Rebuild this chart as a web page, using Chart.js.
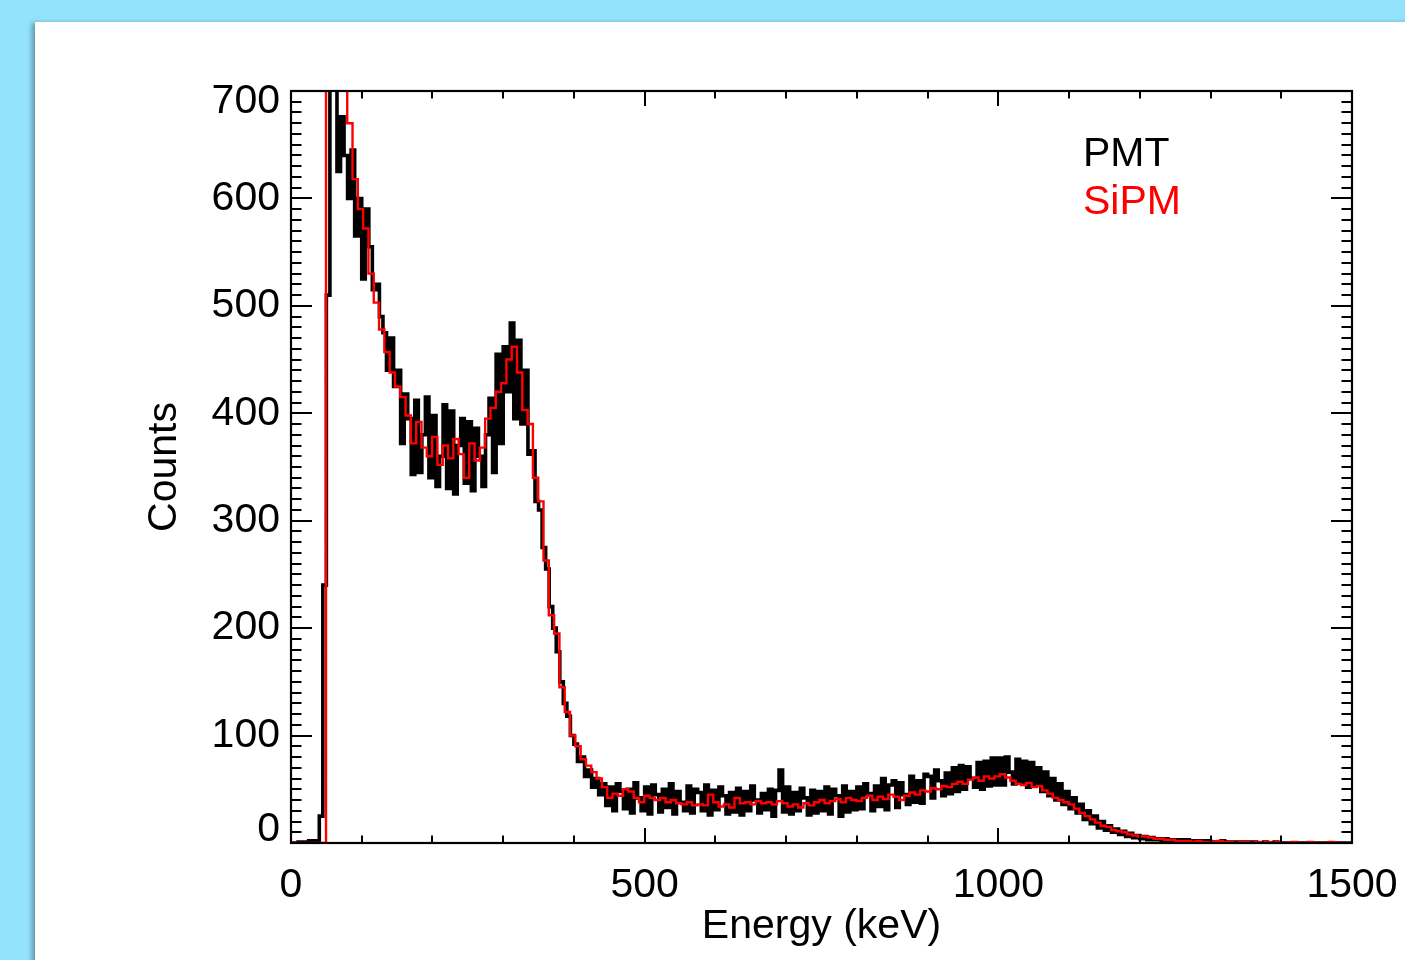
<!DOCTYPE html>
<html>
<head>
<meta charset="utf-8">
<script src="https://cdn.jsdelivr.net/npm/chart.js@4.4.1/dist/chart.umd.min.js"></script>
<style>
  html, body { margin: 0; padding: 0; width: 1405px; height: 960px; overflow: hidden; background: #94e3fd; }
  #panel { position: absolute; left: 35px; top: 22px; width: 1380px; height: 950px; background: #ffffff;
           box-shadow: -3px 1px 5px rgba(0,0,0,0.35); }
  #c { position: absolute; left: 0; top: 0; }
</style>
</head>
<body>
<div id="panel"></div>
<canvas id="c" width="1405" height="960"></canvas>
<script>
// ---------------- data ----------------
const seriesLabels = ['PMT', 'SiPM'];
const seriesColors = ['#000000', '#ff0000'];

// PMT spectrum: counts per 5 keV bin, first bin starts at 0 keV
const PMT_BIN_START = 0;
const PMT_BIN_WIDTH = 5;
const pmtCounts = [
  0,0,1,0,1,2,1,2,25,240,
  510,730,780,625,676,640,600,645,565,600,
  525,590,555,515,520,490,475,440,470,425,
  440,372,418,395,343,412,345,380,415,340,
  398,332,360,408,330,402,325,370,395,335,
  392,328,386,360,332,380,414,345,455,372,
  462,420,484,395,468,390,440,362,365,318,
  310,275,255,220,200,178,150,130,118,100,
  92,76,80,62,68,52,60,45,55,35,
  52,30,55,48,32,50,28,56,42,30,
  52,27,54,45,29,50,33,55,27,48,
  38,30,53,28,50,47,30,54,26,49,
  31,52,44,27,47,29,51,26,48,30,
  53,40,28,46,31,50,25,49,68,29,
  52,27,47,30,51,42,26,49,28,48,
  30,52,27,50,44,25,53,29,48,31,
  52,32,55,46,30,53,34,60,31,54,
  58,33,56,45,36,62,38,58,37,64,
  62,42,68,58,44,65,46,70,48,72,
  50,71,60,52,75,50,76,53,79,54,
  79,54,80,66,55,78,56,76,52,75,
  54,70,48,66,44,60,40,55,36,48,
  32,42,28,36,22,30,18,25,14,20,
  12,16,10,13,8,11,6,9,5,7,
  4,6,3,5,3,4,2,4,2,3,
  2,3,1,3,1,2,1,2,1,2,
  1,1,0,2,1,1,0,1,1,0,
  1,0,1,0,0,1,0,0,1,0,
  0,0,0,0,0,0,0,0,0,0,
  0,0,0,0,0,0,0,0,0,0
];

// SiPM spectrum: counts per 7.5 keV bin, first bin starts at 4.5 keV
const SIPM_BIN_START = 4.5;
const SIPM_BIN_WIDTH = 7.5;
const sipmCounts = [
  0,0,0,0,0,0,780,800,770,740,
  670,618,590,572,530,503,478,457,438,425,
  415,398,372,392,368,360,378,352,370,358,
  376,362,340,372,356,368,395,405,420,428,
  450,462,438,403,390,340,318,263,212,195,
  145,122,100,90,78,72,66,60,52,42,
  46,44,50,48,42,38,44,42,40,42,
  38,40,37,36,38,35,36,35,45,38,
  34,36,33,42,37,38,36,39,37,38,
  36,39,37,34,36,33,37,35,38,40,
  37,39,41,38,42,40,39,42,44,40,
  43,41,45,43,40,44,47,45,49,48,
  51,50,53,52,55,57,55,59,61,58,
  62,60,62,64,61,58,55,54,56,52,
  53,49,46,42,40,38,36,32,28,25,
  22,19,16,15,12,11,10,8,7,6,
  6,5,4,4,3,3,2,2,2,1,
  2,1,1,1,2,1,1,0,1,1,
  0,1,0,1,0,1,0,0,1,0,
  0,1,0,0,0,1,0,0,0
];

// axes
const X_MIN = 0, X_MAX = 1500, X_MAJOR = 500, X_MINOR = 100;
const Y_MIN = 0, Y_MAX = 700, Y_MAJOR = 100, Y_MINOR = 10;
const xTickValues = [0, 500, 1000, 1500];
const xTickLabels = ['0', '500', '1000', '1500'];
const yTickValues = [0, 100, 200, 300, 400, 500, 600, 700];
const yTickLabels = ['0', '100', '200', '300', '400', '500', '600', '700'];
const xTitle = 'Energy (keV)';
const yTitle = 'Counts';

// ---------------- build histogram step points ----------------
function histPoints(counts, start, width) {
  const pts = counts.map((v, i) => ({ x: start + i * width, y: v }));
  pts.push({ x: Math.min(start + counts.length * width, X_MAX), y: counts[counts.length - 1] });
  return pts;
}

const FONT = "'Liberation Sans', Arial, Helvetica, sans-serif";
const FSIZE = 41;

// shift the end labels of the y axis inward, like the original plot
function shiftEndLabels(scale) {
  if (scale.__patched || typeof scale._computeLabelItems !== 'function') return;
  const orig = scale._computeLabelItems;
  scale._computeLabelItems = function (area) {
    const items = orig.call(this, area);
    items.forEach(it => {
      const t = it && it.options && it.options.translation;
      if (!t) return;
      if (it.label === yTickLabels[yTickLabels.length - 1]) t[1] += 11;
      else if (it.label === yTickLabels[0]) t[1] -= 13;
    });
    return items;
  };
  scale.__patched = true;
}

// inward ticks on all four sides + frame
const frameTicks = {
  id: 'frameTicks',
  afterDatasetsDraw(chart) {
    const { ctx, chartArea: a, scales: { x, y } } = chart;
    ctx.save();
    ctx.strokeStyle = '#000';
    ctx.lineWidth = 2;
    ctx.beginPath();
    for (let v = X_MIN; v <= X_MAX; v += X_MINOR) {
      const px = Math.round(x.getPixelForValue(v));
      const len = (v % X_MAJOR === 0) ? 15 : 7.5;
      ctx.moveTo(px, a.bottom); ctx.lineTo(px, a.bottom - len);
      ctx.moveTo(px, a.top); ctx.lineTo(px, a.top + len);
    }
    for (let v = Y_MIN; v <= Y_MAX; v += Y_MINOR) {
      const py = Math.round(y.getPixelForValue(v));
      const len = (v % Y_MAJOR === 0) ? 21 : 10.5;
      ctx.moveTo(a.left, py); ctx.lineTo(a.left + len, py);
      ctx.moveTo(a.right, py); ctx.lineTo(a.right - len, py);
    }
    ctx.stroke();
    ctx.lineWidth = 2.2;
    ctx.strokeRect(a.left, a.top, a.right - a.left, a.bottom - a.top);
    ctx.restore();
  }
};

// text legend in the upper right
const textLegend = {
  id: 'textLegend',
  afterDraw(chart) {
    const { ctx, chartArea: a } = chart;
    ctx.save();
    ctx.font = FSIZE + 'px ' + FONT;
    ctx.textAlign = 'left';
    ctx.textBaseline = 'alphabetic';
    chart.data.datasets.forEach((ds, i) => {
      ctx.fillStyle = ds.borderColor;
      ctx.fillText(ds.label, a.left + 792, a.top + 75 + i * 48);
    });
    ctx.restore();
  }
};

new Chart(document.getElementById('c'), {
  type: 'line',
  data: {
    datasets: [
      { label: seriesLabels[0], data: histPoints(pmtCounts, PMT_BIN_START, PMT_BIN_WIDTH),
        borderColor: seriesColors[0], borderWidth: 3.6, stepped: true, pointRadius: 0,
        fill: false, clip: 0, order: 2 },
      { label: seriesLabels[1], data: histPoints(sipmCounts, SIPM_BIN_START, SIPM_BIN_WIDTH),
        borderColor: seriesColors[1], borderWidth: 2.4, stepped: true, pointRadius: 0,
        fill: false, clip: 0, order: 1 }
    ]
  },
  options: {
    responsive: false,
    animation: false,
    events: [],
    layout: { padding: { left: 0, top: 91, right: 53, bottom: 0 } },
    plugins: { legend: { display: false }, tooltip: { enabled: false } },
    scales: {
      x: {
        type: 'linear', position: 'bottom', min: X_MIN, max: X_MAX,
        grid: { display: false }, border: { display: false },
        afterBuildTicks: s => { s.ticks = xTickValues.map(v => ({ value: v })); },
        ticks: { color: '#000', font: { family: FONT, size: FSIZE }, padding: 10,
                 maxRotation: 0, autoSkip: false,
                 callback: v => xTickLabels[xTickValues.indexOf(v)] },
        title: { display: true, text: xTitle, color: '#000', font: { family: FONT, size: FSIZE },
                 padding: { top: 0, bottom: 9 } },
        afterFit: s => { s.height = 960 - 843; s.paddingLeft = 0; s.paddingRight = 0; }
      },
      y: {
        type: 'linear', position: 'left', min: Y_MIN, max: Y_MAX,
        grid: { display: false }, border: { display: false },
        afterBuildTicks: s => { s.ticks = yTickValues.map(v => ({ value: v })); },
        ticks: { color: '#000', font: { family: FONT, size: FSIZE }, padding: 3, autoSkip: false,
                 callback: v => yTickLabels[yTickValues.indexOf(v)] },
        title: { display: true, text: yTitle, color: '#000', font: { family: FONT, size: FSIZE },
                 padding: { top: 140, bottom: 0 } },
        afterFit: s => { s.width = 291; s.paddingTop = 0; s.paddingBottom = 0; },
        afterUpdate: shiftEndLabels
      }
    }
  },
  plugins: [frameTicks, textLegend]
});
</script>
</body>
</html>
